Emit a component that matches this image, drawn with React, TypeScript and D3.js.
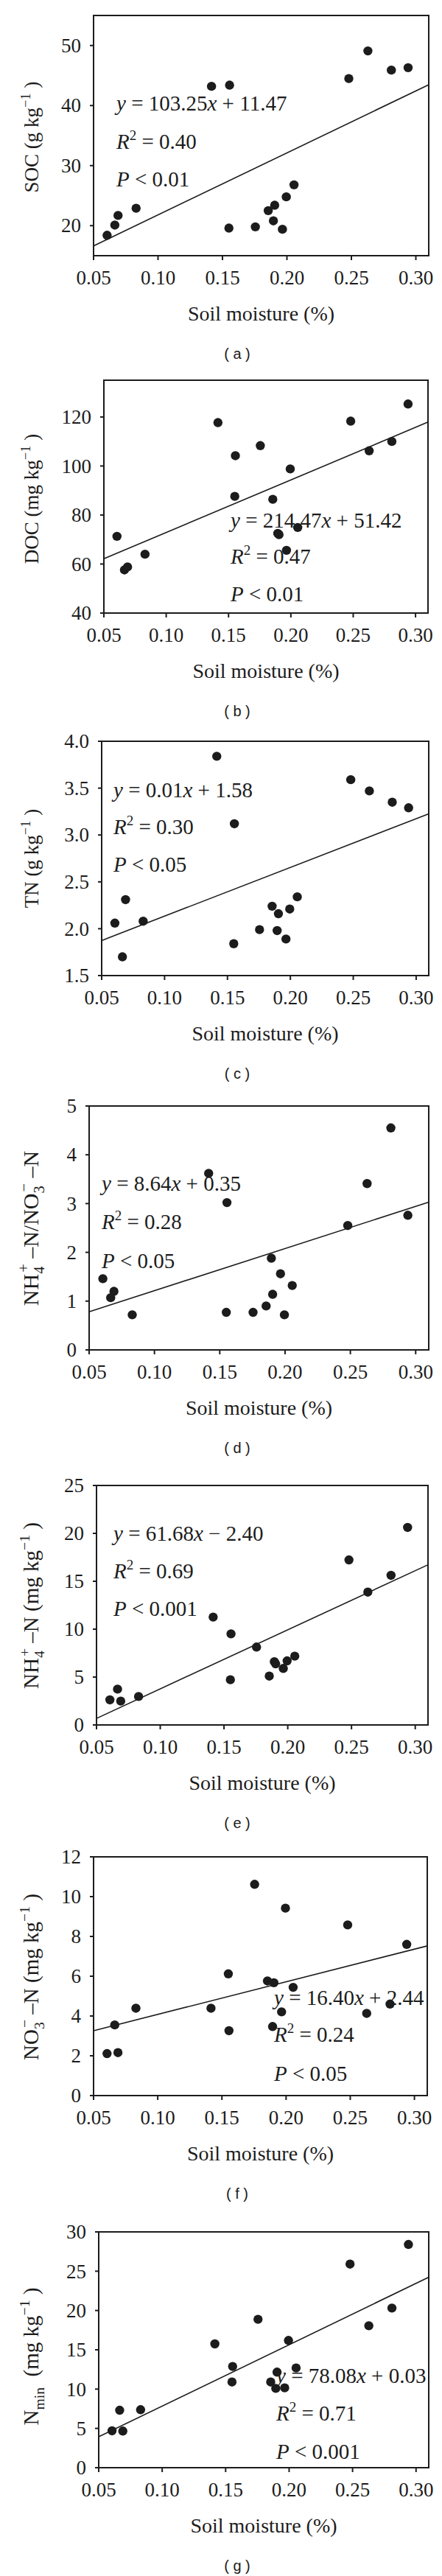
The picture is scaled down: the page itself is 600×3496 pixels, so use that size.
import React from 'react';
import * as d3 from 'd3';

// ---------- DATA ----------
const moisture = [0.0605, 0.0665, 0.069, 0.083, 0.1415, 0.155, 0.1555, 0.1755, 0.1855, 0.1895, 0.1905, 0.1965, 0.1995, 0.2055, 0.248, 0.2628, 0.281, 0.294];

const soc = [18.4, 20.1, 21.7, 22.9, 43.2, 19.6, 43.4, 19.8, 22.5, 20.8, 23.4, 19.4, 24.8, 26.8, 44.5, 49.1, 45.9, 46.3];
const docv = [71.3, 57.6, 58.8, 64.0, 117.7, 87.6, 104.2, 108.3, 86.4, 72.5, 72.0, 65.6, 98.8, 74.9, 118.3, 106.2, 110.0, 125.3];
const tn = [2.06, 1.70, 2.31, 2.08, 3.84, 1.84, 3.12, 1.99, 2.24, 1.98, 2.16, 1.89, 2.21, 2.34, 3.59, 3.47, 3.35, 3.29];
const ratio = [1.46, 1.07, 1.20, 0.72, 3.62, 0.77, 3.02, 0.77, 0.90, 1.88, 1.14, 1.56, 0.72, 1.32, 2.55, 3.41, 4.55, 2.76];
const nh4 = [2.62, 3.74, 2.49, 2.97, 11.26, 4.72, 9.51, 8.13, 5.10, 6.6, 6.38, 5.90, 6.69, 7.18, 17.23, 13.87, 15.62, 20.62];
const no3 = [2.11, 3.55, 2.16, 4.39, 4.39, 6.12, 3.26, 10.62, 5.76, 3.47, 5.67, 4.21, 9.42, 5.44, 8.58, 4.13, 4.60, 7.60];
const nmin = [4.69, 7.31, 4.66, 7.38, 15.75, 10.9, 12.88, 18.88, 10.9, 10.09, 12.16, 10.16, 16.19, 12.69, 25.9, 18.06, 20.31, 28.4];

const xDomain = [0.05, 0.31];
const xTicks = [0.05, 0.10, 0.15, 0.20, 0.25, 0.30];

const yDomains = [[15, 55], [40, 135], [1.5, 4.0], [0, 5], [0, 25], [0, 12], [0, 30]];
const yTicks = [
  [20, 30, 40, 50],
  [40, 60, 80, 100, 120],
  [1.5, 2.0, 2.5, 3.0, 3.5, 4.0],
  [0, 1, 2, 3, 4, 5],
  [0, 5, 10, 15, 20, 25],
  [0, 2, 4, 6, 8, 10, 12],
  [0, 5, 10, 15, 20, 25, 30],
];
const yTickDecimals = [0, 0, 1, 0, 0, 0, 0];

// fitted line as drawn (slope, intercept)
const lineSlope = [103.25, 214.47, 5.2, 8.64, 61.68, 16.40, 78.08];
const lineIntercept = [11.47, 51.42, 1.614, 0.35, -2.40, 2.44, 0.03];

const eqText = ['y = 103.25x + 11.47', 'y = 214.47x + 51.42', 'y = 0.01x + 1.58', 'y = 8.64x + 0.35', 'y = 61.68x − 2.40', 'y = 16.40x + 2.44', 'y = 78.08x + 0.03'];
const r2Text = ['0.40', '0.47', '0.30', '0.28', '0.69', '0.24', '0.71'];
const pText = ['0.01', '0.01', '0.05', '0.05', '0.001', '0.05', '0.001'];
const captions = ['a', 'b', 'c', 'd', 'e', 'f', 'g'];
const xLabel = 'Soil moisture (%)';

type Seg = { t: string; k?: 'n' | 'sup' | 'sub' | 'stack'; s2?: string };
const yLabels: Seg[][] = [
  [{ t: 'SOC (g kg' }, { t: '−1', k: 'sup' }, { t: ' )' }],
  [{ t: 'DOC (mg kg' }, { t: '−1', k: 'sup' }, { t: ' )' }],
  [{ t: 'TN (g kg' }, { t: '−1', k: 'sup' }, { t: ' )' }],
  [{ t: 'NH' }, { t: '4', k: 'stack', s2: '+' }, { t: ' –N/NO' }, { t: '3', k: 'stack', s2: '−' }, { t: ' –N' }],
  [{ t: 'NH' }, { t: '4', k: 'stack', s2: '+' }, { t: ' –N (mg kg' }, { t: '−1', k: 'sup' }, { t: ' )' }],
  [{ t: 'NO' }, { t: '3', k: 'stack', s2: '−' }, { t: ' –N (mg kg' }, { t: '−1', k: 'sup' }, { t: ' )' }],
  [{ t: 'N' }, { t: 'min', k: 'sub' }, { t: '  (mg kg' }, { t: '−1', k: 'sup' }, { t: ' )' }],
];

const seriesY = [soc, docv, tn, ratio, nh4, no3, nmin];

// ---------- LAYOUT ----------
const PANEL_H = 500;
const boxes = [
  { l: 127, r: 582, t: 21, b: 347 },
  { l: 141, r: 581, t: 16, b: 332 },
  { l: 138, r: 582, t: 6, b: 324 },
  { l: 121, r: 582, t: 1, b: 332 },
  { l: 131, r: 581, t: 16, b: 341 },
  { l: 127, r: 580, t: 20, b: 344 },
  { l: 134, r: 582, t: 29, b: 349 },
];
const eqPos = [
  { x: 158, y: [150, 202, 253] },
  { x: 313, y: [216, 265, 316] },
  { x: 154, y: [82, 132, 183] },
  { x: 138, y: [116, 168, 221] },
  { x: 154, y: [91, 142, 193] },
  { x: 372, y: [221, 271, 324] },
  { x: 375, y: [234, 285, 337] },
];
const yLabelPos = [
  { x: 52, y: 186, fs: 27 },
  { x: 52, y: 177, fs: 27 },
  { x: 52, y: 165, fs: 27 },
  { x: 52, y: 167, fs: 30 },
  { x: 52, y: 179, fs: 29 },
  { x: 52, y: 183, fs: 29 },
  { x: 52, y: 198, fs: 29 },
];

const FONT = '"Liberation Serif", "Times New Roman", serif';
const INK = '#1c1c1c';
const TICK_FS = 27;
const EQ_FS = 29;
const XLABEL_FS = 28;

function rich(segs: Seg[], fs: number) {
  const out: any[] = [];
  let cur = 0;
  const small = fs * 0.68;
  const supT = -fs * 0.42;
  const subT = fs * 0.26;
  segs.forEach((s, i) => {
    const k = s.k || 'n';
    if (k === 'n') {
      out.push(<tspan key={i} dy={0 - cur}>{s.t}</tspan>);
      cur = 0;
    } else if (k === 'sup') {
      out.push(<tspan key={i} dy={supT - cur} fontSize={small}>{s.t}</tspan>);
      cur = supT;
    } else if (k === 'sub') {
      out.push(<tspan key={i} dy={subT - cur} fontSize={small}>{s.t}</tspan>);
      cur = subT;
    } else {
      out.push(<tspan key={i + 'a'} dy={subT - cur} fontSize={small}>{s.t}</tspan>);
      out.push(<tspan key={i + 'b'} dx={-small * 0.5 * s.t.length + 2} dy={supT - subT} fontSize={small}>{s.s2}</tspan>);
      cur = supT;
    }
  });
  return out;
}

function eqSpans(str: string) {
  const parts = str.split(/([xy])/).filter((p) => p.length);
  return parts.map((p, i) =>
    p === 'x' || p === 'y' ? (
      <tspan key={i} fontStyle="italic">{p}</tspan>
    ) : (
      <tspan key={i}>{p}</tspan>
    )
  );
}

function Panel({ idx }: { idx: number }) {
  const box = boxes[idx];
  const x = d3.scaleLinear().domain(xDomain).range([box.l, box.r]);
  const y = d3.scaleLinear().domain(yDomains[idx]).range([box.b, box.t]);
  const ys = seriesY[idx];
  const fmtY = d3.format(`.${yTickDecimals[idx]}f`);
  const fmtX = d3.format('.2f');
  const lineGen = d3
    .line<number>()
    .x((d) => x(d))
    .y((d) => y(lineSlope[idx] * d + lineIntercept[idx]));
  const ep = eqPos[idx];
  const yl = yLabelPos[idx];
  const cx = (box.l + box.r) / 2;
  return (
    <g transform={`translate(0, ${idx * PANEL_H})`} fontFamily={FONT} fill={INK}>
      {/* y label */}
      <text
        transform={`translate(${yl.x}, ${yl.y}) rotate(-90)`}
        textAnchor="middle"
        fontSize={yl.fs}
        style={{ whiteSpace: 'pre' }}
      >
        {rich(yLabels[idx], yl.fs)}
      </text>
      {/* y ticks */}
      {yTicks[idx].map((t) => (
        <g key={'yt' + t}>
          <line x1={box.l - 5} x2={box.l} y1={y(t)} y2={y(t)} stroke={INK} strokeWidth={2} />
          <text x={box.l - 17} y={y(t)} dy="0.34em" textAnchor="end" fontSize={TICK_FS}>
            {fmtY(t)}
          </text>
        </g>
      ))}
      {/* x ticks */}
      {xTicks.map((t) => (
        <g key={'xt' + t}>
          <line x1={x(t)} x2={x(t)} y1={box.b} y2={box.b + 6} stroke={INK} strokeWidth={2} />
          <text x={x(t)} y={box.b + 39} textAnchor="middle" fontSize={TICK_FS}>
            {fmtX(t)}
          </text>
        </g>
      ))}
      {/* box */}
      <rect x={box.l} y={box.t} width={box.r - box.l} height={box.b - box.t} fill="none" stroke={INK} strokeWidth={2} />
      {/* regression line */}
      <path d={lineGen(xDomain) || ''} fill="none" stroke={INK} strokeWidth={1.6} />
      {/* points */}
      {moisture.map((m, i) => (
        <circle key={i} cx={x(m)} cy={y(ys[i])} r={6.2} fill={INK} />
      ))}
      {/* equation */}
      <text x={ep.x} y={ep.y[0]} fontSize={EQ_FS} style={{ whiteSpace: 'pre' }}>
        {eqSpans(eqText[idx])}
      </text>
      <text x={ep.x} y={ep.y[1]} fontSize={EQ_FS} style={{ whiteSpace: 'pre' }}>
        <tspan fontStyle="italic">R</tspan>
        <tspan dy={-12} fontSize={19}>2</tspan>
        <tspan dy={12}>{' = ' + r2Text[idx]}</tspan>
      </text>
      <text x={ep.x} y={ep.y[2]} fontSize={EQ_FS} style={{ whiteSpace: 'pre' }}>
        <tspan fontStyle="italic">P</tspan>
        <tspan>{' < ' + pText[idx]}</tspan>
      </text>
      {/* x label */}
      <text x={cx} y={box.b + 88} textAnchor="middle" fontSize={XLABEL_FS}>
        {xLabel}
      </text>
      {/* caption */}
      <text
        x={322}
        y={box.b + 140}
        textAnchor="middle"
        fontSize={20}
        fontFamily='"Liberation Sans", Arial, sans-serif'
        style={{ whiteSpace: 'pre' }}
      >
        {`( ${captions[idx]} )`}
      </text>
    </g>
  );
}

export default function App() {
  return (
    <svg
      width={600}
      height={3496}
      viewBox="0 0 600 3496"
      style={{ position: 'absolute', left: 0, top: 0, display: 'block', background: '#fff' }}
    >
      <rect x={0} y={0} width={600} height={3496} fill="#fff" />
      {captions.map((c, i) => (
        <Panel key={c} idx={i} />
      ))}
    </svg>
  );
}
